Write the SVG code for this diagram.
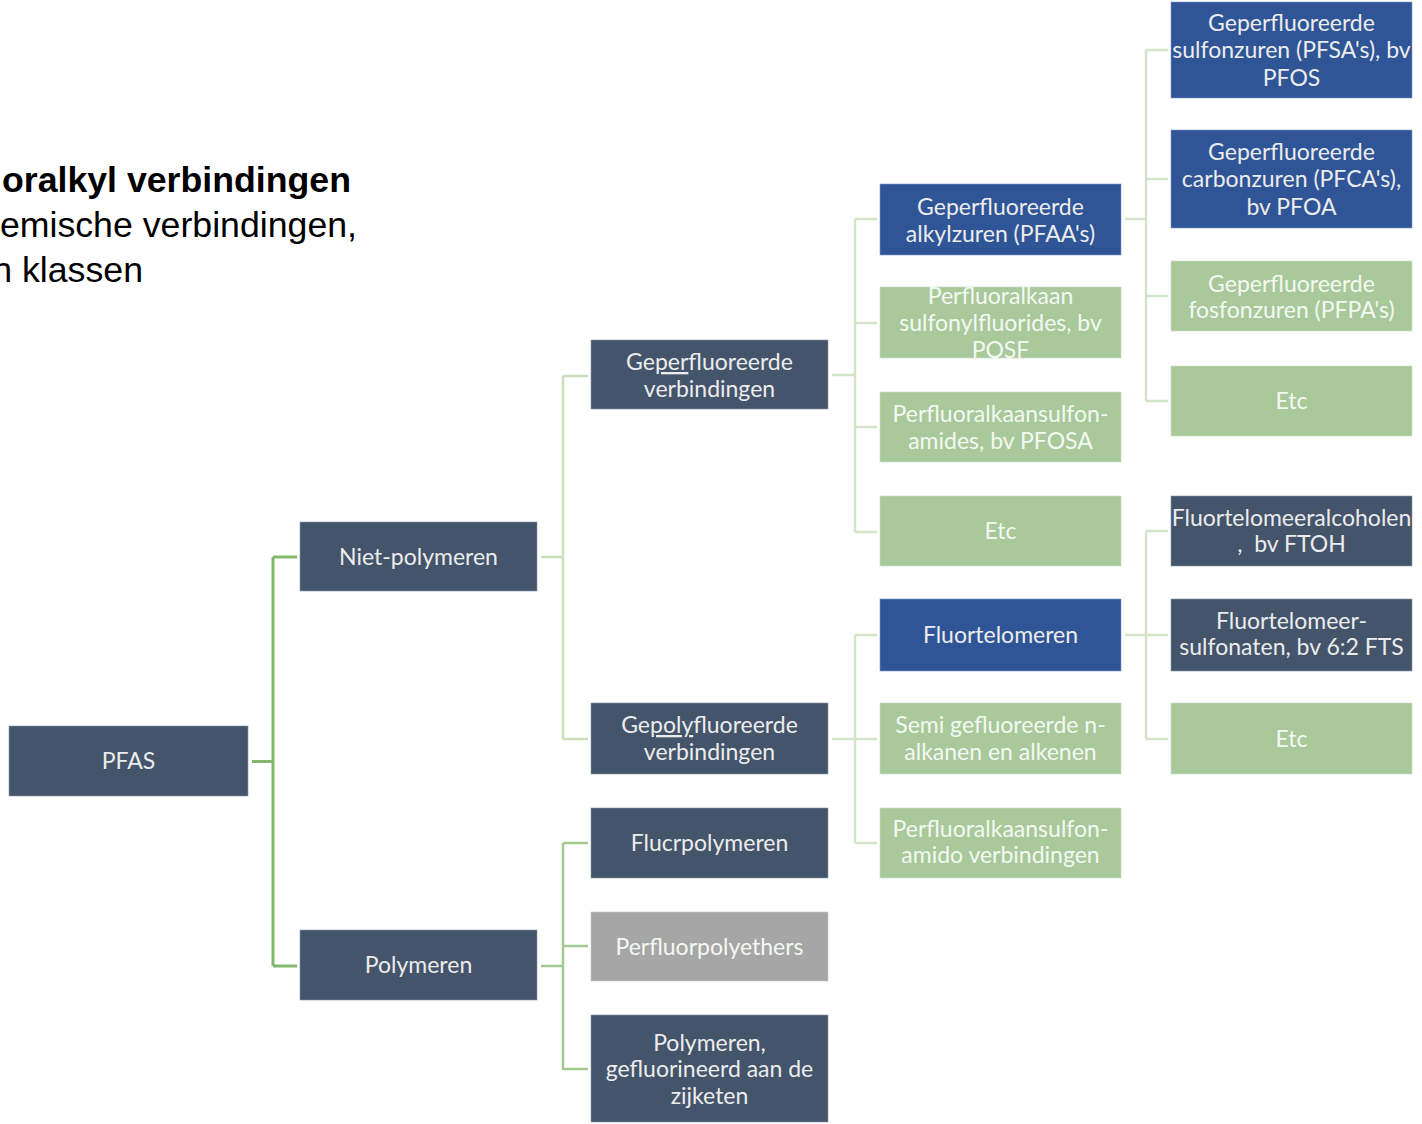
<svg xmlns="http://www.w3.org/2000/svg" width="1422" height="1124" viewBox="0 0 1422 1124">
<style>
.dk{fill:#44546a;stroke:#8a96a8;stroke-width:0.6}
.bl{fill:#2f5597;stroke:#7f97c2;stroke-width:0.6}
.gr{fill:#a9c99b;stroke:#c9ddbf;stroke-width:0.6}
.gy{fill:#a6a6a6;stroke:#c8c8c8;stroke-width:0.6}
.t{font-family:Lato,"Open Sans",sans-serif;font-size:23px;fill:#ececec;text-anchor:middle}
.tg{font-family:Lato,"Open Sans",sans-serif;font-size:23px;fill:#f4f8f2;text-anchor:middle}
.h{font-family:"Liberation Sans",Arial,sans-serif;font-size:35.7px;fill:#000;text-anchor:end}
.c0{fill:none;stroke:#82b86c;stroke-width:3}
.c1{fill:none;stroke:#c8dfba;stroke-width:2.5}
.c2{fill:none;stroke:#a2c98f;stroke-width:2.5}
.c3{fill:none;stroke:#d3e5c8;stroke-width:2.5}
</style>
<rect width="1422" height="1124" fill="#ffffff"/>
<g id="heading">
<text class="h" x="351" y="192" font-weight="bold">oralkyl verbindingen</text>
<text class="h" x="357" y="237">emische verbindingen,</text>
<text class="h" x="143" y="282">n klassen</text>
</g>
<g id="connectors">
<path class="c0" d="M252 761.5H273M273 557V966M273 557H297M273 966H297"/>
<path class="c1" d="M541 557H563M563 376V739M563 376H588M563 739H588"/>
<path class="c2" d="M541 966H563M563 843V1069H588M563 843H588M563 946H588"/>
<path class="c3" d="M832 375H855M855 219V532M855 219H877M855 323H877M855 427H877M855 532H877"/>
<path class="c3" d="M832 739H855M855 635V843M855 635H877M855 739H877M855 843H877"/>
<path class="c3" d="M1125 219H1146M1146 50V401M1146 50H1168M1146 179H1168M1146 296H1168M1146 401H1168"/>
<path class="c3" d="M1125 635H1146M1146 531V739M1146 531H1168M1146 635H1168M1146 739H1168"/>
</g>
<g id="pfas"><rect class="dk" x="9" y="726" width="239" height="70"/><text class="t" x="128.5" y="769">PFAS</text></g>
<g id="niet-polymeren"><rect class="dk" x="300" y="522" width="237" height="69"/><text class="t" x="418.5" y="565">Niet-polymeren</text></g>
<g id="polymeren"><rect class="dk" x="300" y="930" width="237" height="70"/><text class="t" x="418.5" y="973">Polymeren</text></g>
<g id="geperfluoreerde-verbindingen"><rect class="dk" x="591" y="340" width="237" height="69"/><text class="t" x="709.5" y="370">Ge<tspan text-decoration="underline">per</tspan>fluoreerde</text><text class="t" x="709.5" y="397">verbindingen</text></g>
<g id="gepolyfluoreerde-verbindingen"><rect class="dk" x="591" y="703" width="237" height="71"/><text class="t" x="709.5" y="733">Ge<tspan text-decoration="underline">poly</tspan>fluoreerde</text><text class="t" x="709.5" y="760">verbindingen</text></g>
<g id="fluorpolymeren"><rect class="dk" x="591" y="808" width="237" height="70"/><text class="t" x="709.5" y="851">Flucrpolymeren</text></g>
<g id="perfluorpolyethers"><rect class="gy" x="591" y="912" width="237" height="69"/><text class="tg" x="709.5" y="955">Perfluorpolyethers</text></g>
<g id="polymeren-zijketen"><rect class="dk" x="591" y="1015" width="237" height="107"/><text class="t" x="709.5" y="1051">Polymeren,</text><text class="t" x="709.5" y="1077">gefluorineerd aan de</text><text class="t" x="709.5" y="1104">zijketen</text></g>
<g id="pfaa"><rect class="bl" x="880" y="184" width="241" height="71"/><text class="t" x="1000.5" y="215">Geperfluoreerde</text><text class="t" x="1000.5" y="242">alkylzuren (PFAA's)</text></g>
<g id="posf"><rect class="gr" x="880" y="287" width="241" height="71"/><text class="tg" x="1000.5" y="304">Perfluoralkaan</text><text class="tg" x="1000.5" y="331">sulfonylfluorides, bv</text><text class="tg" x="1000.5" y="358">POSF</text></g>
<g id="pfosa"><rect class="gr" x="880" y="392" width="241" height="70"/><text class="tg" x="1000.5" y="422">Perfluoralkaansulfon-</text><text class="tg" x="1000.5" y="449">amides, bv PFOSA</text></g>
<g id="etc-1"><rect class="gr" x="880" y="496" width="241" height="70"/><text class="tg" x="1000.5" y="539">Etc</text></g>
<g id="fluortelomeren"><rect class="bl" x="880" y="599" width="241" height="72"/><text class="t" x="1000.5" y="643">Fluortelomeren</text></g>
<g id="semi"><rect class="gr" x="880" y="703" width="241" height="71"/><text class="tg" x="1000.5" y="733">Semi gefluoreerde n-</text><text class="tg" x="1000.5" y="760">alkanen en alkenen</text></g>
<g id="amido"><rect class="gr" x="880" y="808" width="241" height="70"/><text class="tg" x="1000.5" y="837">Perfluoralkaansulfon-</text><text class="tg" x="1000.5" y="863">amido verbindingen</text></g>
<g id="pfsa"><rect class="bl" x="1171" y="2" width="241" height="96"/><text class="t" x="1291.5" y="31">Geperfluoreerde</text><text class="t" x="1291.5" y="58">sulfonzuren (PFSA's), bv</text><text class="t" x="1291.5" y="86">PFOS</text></g>
<g id="pfca"><rect class="bl" x="1171" y="130" width="241" height="98"/><text class="t" x="1291.5" y="160">Geperfluoreerde</text><text class="t" x="1291.5" y="187">carbonzuren (PFCA's),</text><text class="t" x="1291.5" y="215">bv PFOA</text></g>
<g id="pfpa"><rect class="gr" x="1171" y="261" width="241" height="70"/><text class="tg" x="1291.5" y="292">Geperfluoreerde</text><text class="tg" x="1291.5" y="318">fosfonzuren (PFPA's)</text></g>
<g id="etc-2"><rect class="gr" x="1171" y="366" width="241" height="70"/><text class="tg" x="1291.5" y="409">Etc</text></g>
<g id="ftoh"><rect class="dk" x="1171" y="496" width="241" height="70"/><text class="t" x="1291.5" y="526">Fluortelomeeralcoholen</text><text class="t" x="1291.5" y="552" xml:space="preserve">,  bv FTOH</text></g>
<g id="fts"><rect class="dk" x="1171" y="599" width="241" height="72"/><text class="t" x="1291.5" y="629">Fluortelomeer-</text><text class="t" x="1291.5" y="655">sulfonaten, bv 6:2 FTS</text></g>
<g id="etc-3"><rect class="gr" x="1171" y="703" width="241" height="71"/><text class="tg" x="1291.5" y="747">Etc</text></g>
</svg>
